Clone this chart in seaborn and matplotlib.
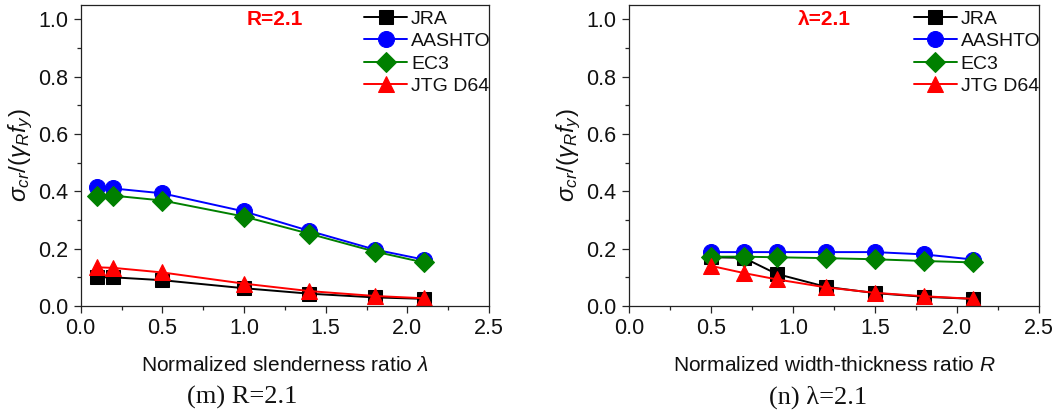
import matplotlib
matplotlib.use("Agg")
import matplotlib.pyplot as plt
from matplotlib.ticker import MultipleLocator
import numpy as np
import pandas as pd
import seaborn as sns

# ---- data ----
series_names = ["JRA", "AASHTO", "EC3", "JTG D64"]

# (m) R = 2.1, varying slenderness ratio
lam = [0.1, 0.2, 0.5, 1.0, 1.4, 1.8, 2.1]
m_jra = [0.100, 0.100, 0.090, 0.062, 0.043, 0.030, 0.025]
m_aashto = [0.415, 0.410, 0.393, 0.330, 0.262, 0.197, 0.162]
m_ec3 = [0.385, 0.385, 0.368, 0.312, 0.252, 0.190, 0.152]
m_jtg = [0.135, 0.133, 0.117, 0.078, 0.052, 0.035, 0.027]

# (n) lambda = 2.1, varying width-thickness ratio
r_vals = [0.5, 0.7, 0.9, 1.2, 1.5, 1.8, 2.1]
n_jra = [0.170, 0.168, 0.112, 0.067, 0.045, 0.032, 0.025]
n_aashto = [0.188, 0.188, 0.188, 0.188, 0.188, 0.180, 0.162]
n_ec3 = [0.172, 0.172, 0.170, 0.167, 0.163, 0.157, 0.152]
n_jtg = [0.140, 0.115, 0.093, 0.065, 0.046, 0.034, 0.025]

x_ticks = [0.0, 0.5, 1.0, 1.5, 2.0, 2.5]
y_ticks = [0.0, 0.2, 0.4, 0.6, 0.8, 1.0]

# ---- style ----
sns.set_style("ticks")
plt.rcParams["font.family"] = ["Liberation Sans", "DejaVu Sans"]
plt.rcParams["mathtext.fontset"] = "custom"
plt.rcParams["mathtext.rm"] = "Liberation Sans"
plt.rcParams["mathtext.it"] = "Liberation Sans:italic"
plt.rcParams["mathtext.bf"] = "Liberation Sans:bold"

colors = {"JRA": "#000000", "AASHTO": "#0000FF", "EC3": "#008000", "JTG D64": "#FF0000"}
markers = {"JRA": "s", "AASHTO": "o", "EC3": "D", "JTG D64": "^"}
msizes = {"JRA": 10.0, "AASHTO": 11.5, "EC3": 10.5, "JTG D64": 12.0}

W, H = 1057, 416
fig = plt.figure(figsize=(W / 100, H / 100), dpi=100)
fig.patch.set_facecolor("white")


def px_axes(x0, x1, ytop, ybot):
    return fig.add_axes([x0 / W, 1 - ybot / H, (x1 - x0) / W, (ybot - ytop) / H])


def draw_panel(ax, xs, vals, xlabel, note):
    df = pd.DataFrame({"x": np.tile(xs, 4),
                       "y": np.concatenate(vals),
                       "code": np.repeat(series_names, len(xs))})
    for name in series_names:
        sub = df[df["code"] == name]
        sns.lineplot(data=sub, x="x", y="y", ax=ax, color=colors[name],
                     marker=markers[name], markersize=msizes[name],
                     markeredgecolor=colors[name], linewidth=1.4,
                     label=name, sort=False)
    ax.set_xlim(0, 2.5)
    ax.set_ylim(0, 1.05)
    ax.set_xticks(x_ticks)
    ax.set_yticks(y_ticks)
    ax.set_xticklabels([f"{v:.1f}" for v in x_ticks])
    ax.set_yticklabels([f"{v:.1f}" for v in y_ticks])
    ax.xaxis.set_minor_locator(MultipleLocator(0.25))
    ax.yaxis.set_minor_locator(MultipleLocator(0.1))
    ax.tick_params(axis="both", which="major", direction="out", length=5,
                   width=0.9, labelsize=15.5, pad=4, top=False, right=False,
                   labelcolor="#111111")
    ax.tick_params(axis="both", which="minor", direction="out", length=3,
                   width=0.9, top=False, right=False)
    for s in ax.spines.values():
        s.set_visible(True)
        s.set_color("#222222")
        s.set_linewidth(0.9)
    ax.set_xlabel(xlabel, fontsize=15, labelpad=12, color="#111111")
    ax.set_ylabel(r"$\sigma_{cr}/(\gamma_R f_y)$", fontsize=17.5, labelpad=2,
                  color="#111111")
    ax.text(1.19, 1.0, note, color="#FF0000", fontsize=15, fontweight="bold",
            ha="center", va="center")
    ax.legend(loc="upper left", bbox_to_anchor=(0.69, 0.99), frameon=False,
              fontsize=14, handlelength=2.2, handletextpad=0.2,
              labelspacing=0.25, borderpad=0.1, borderaxespad=0.0,
              labelcolor="#111111")


ax1 = px_axes(80.7, 489, 5, 306)
draw_panel(ax1, lam, [m_jra, m_aashto, m_ec3, m_jtg],
           r"Normalized slenderness ratio $\lambda$", "R=2.1")

ax2 = px_axes(629, 1039, 5, 306)
draw_panel(ax2, r_vals, [n_jra, n_aashto, n_ec3, n_jtg],
           r"Normalized width-thickness ratio $R$", "λ=2.1")

# sub-figure captions
fig.text(242 / W, 1 - 397 / H, "(m) R=2.1", family=["Liberation Serif", "DejaVu Serif"],
         fontsize=19, ha="center", va="center", color="#111111")
fig.text(818 / W, 1 - 397 / H, "(n) λ=2.1", family=["Liberation Serif", "DejaVu Serif"],
         fontsize=19, ha="center", va="center", color="#111111")

fig.savefig("out.png", dpi=100, facecolor="white")
